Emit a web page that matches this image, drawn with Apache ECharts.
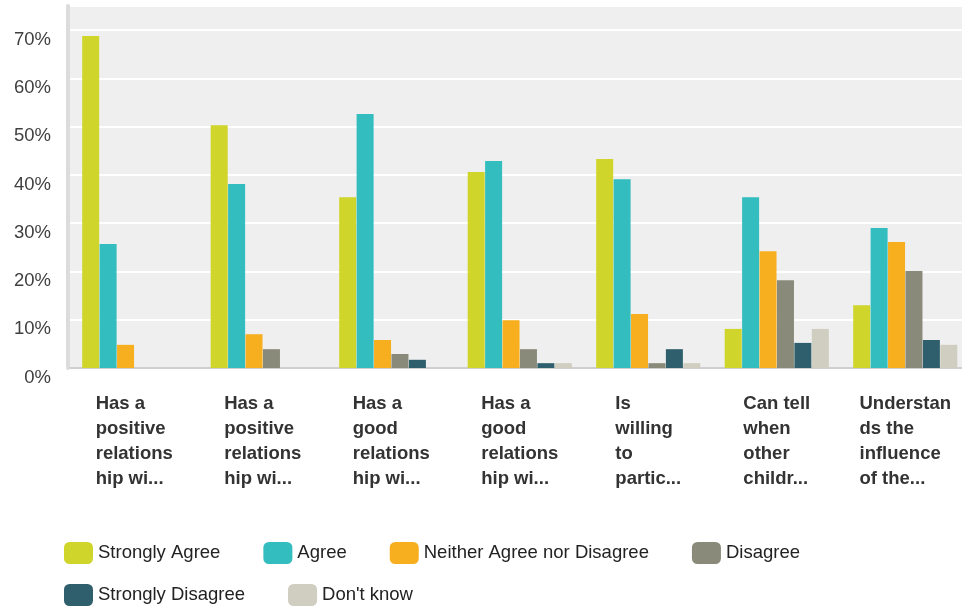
<!DOCTYPE html>
<html>
<head>
<meta charset="utf-8">
<style>
  html, body { margin: 0; padding: 0; background: #ffffff; }
  #chart { width: 962px; height: 606px; }
</style>
<script src="https://cdn.jsdelivr.net/npm/echarts@6/dist/echarts.min.js"></script>
</head>
<body>
<div id="chart"></div>
<script>
// Category labels (already shortened, one array entry per line)
const categories = [
  ['Has a', 'positive', 'relations', 'hip wi...'],
  ['Has a', 'positive', 'relations', 'hip wi...'],
  ['Has a', 'good', 'relations', 'hip wi...'],
  ['Has a', 'good', 'relations', 'hip wi...'],
  ['Is', 'willing', 'to', 'partic...'],
  ['Can tell', 'when', 'other', 'childr...'],
  ['Understan', 'ds the', 'influence', 'of the...']
];

// Response shares in percent
const stronglyAgree    = [68.8, 50.3, 35.4, 40.6, 43.3, 8.1, 13.0];
const agree            = [25.7, 38.1, 52.6, 42.9, 39.1, 35.4, 29.0];
const neither          = [4.8, 7.0, 5.8, 9.9, 11.2, 24.2, 26.1];
const disagree         = [0, 3.9, 2.9, 3.9, 1.0, 18.2, 20.1];
const stronglyDisagree = [0, 0, 1.7, 1.0, 3.9, 5.2, 5.8];
const dontKnow         = [0, 0, 0, 1.0, 1.0, 8.1, 4.8];

const seriesNames = ['Strongly Agree', 'Agree', 'Neither Agree nor Disagree', 'Disagree', 'Strongly Disagree', "Don't know"];
const seriesData = [stronglyAgree, agree, neither, disagree, stronglyDisagree, dontKnow];
const colors = ['#CFD52A', '#33BDBF', '#F7AF1F', '#8A8A7A', '#2F5F6C', '#CFCEC0'];

// Y axis ticks
const yMin = 0, yMax = 75, yStep = 10;

const FONT = '"Liberation Sans", Arial, Helvetica, sans-serif';

const chart = echarts.init(document.getElementById('chart'), null, { renderer: 'canvas' });

const legendText = { fontFamily: FONT, fontSize: 18.5, color: '#222222' };

// The plot runs a little past the right edge of the canvas
chart.setOption({
  animation: false,
  color: colors,
  grid: {
    left: 70, width: 899.5, top: 6, bottom: 238,
    outerBoundsMode: 'none',
    containLabel: false,
    show: true, backgroundColor: '#EFEFEF', borderWidth: 0
  },
  legend: [
    {
      data: seriesNames.slice(0, 4),
      left: 64, top: 542, padding: 0,
      orient: 'horizontal',
      itemWidth: 29, itemHeight: 22, itemGap: 43,
      icon: 'roundRect',
      textStyle: legendText,
      selectedMode: false
    },
    {
      data: seriesNames.slice(4),
      left: 64, top: 584, padding: 0,
      orient: 'horizontal',
      itemWidth: 29, itemHeight: 22, itemGap: 43,
      icon: 'roundRect',
      textStyle: legendText,
      selectedMode: false
    }
  ],
  xAxis: {
    type: 'category',
    data: categories.map(lines => lines.join('\n')),
    axisLine: { show: true, lineStyle: { color: '#CFCFCF', width: 2 } },
    axisTick: { show: false },
    axisLabel: {
      interval: 0,
      margin: 23,
      align: 'center',
      verticalAlign: 'top',
      hideOverlap: false,
      // each label block is centred under its group, lines left-aligned inside it
      formatter: v => v.split('\n').map(s => '{t|' + s + '}').join('\n'),
      rich: {
        t: {
          align: 'left',
          fontFamily: FONT, fontSize: 18.5, fontWeight: 'bold',
          color: '#333333', lineHeight: 25
        }
      }
    }
  },
  yAxis: {
    type: 'value',
    min: yMin, max: yMax, interval: yStep,
    offset: 2,
    axisLine: { show: true, lineStyle: { color: '#DCDCDC', width: 4 } },
    axisTick: { show: false },
    splitLine: { show: true, lineStyle: { color: '#FFFFFF', width: 2 } },
    axisLabel: {
      showMaxLabel: false,
      margin: 17,
      formatter: v => v + '%',
      fontFamily: FONT, fontSize: 18.5, color: '#404040',
      verticalAlign: 'top',
      lineHeight: 19
    }
  },
  series: seriesNames.map((name, i) => ({
    name,
    type: 'bar',
    data: seriesData[i],
    barWidth: 17,
    barGap: '2.5%',
    itemStyle: { color: colors[i] }
  }))
});
</script>
</body>
</html>
